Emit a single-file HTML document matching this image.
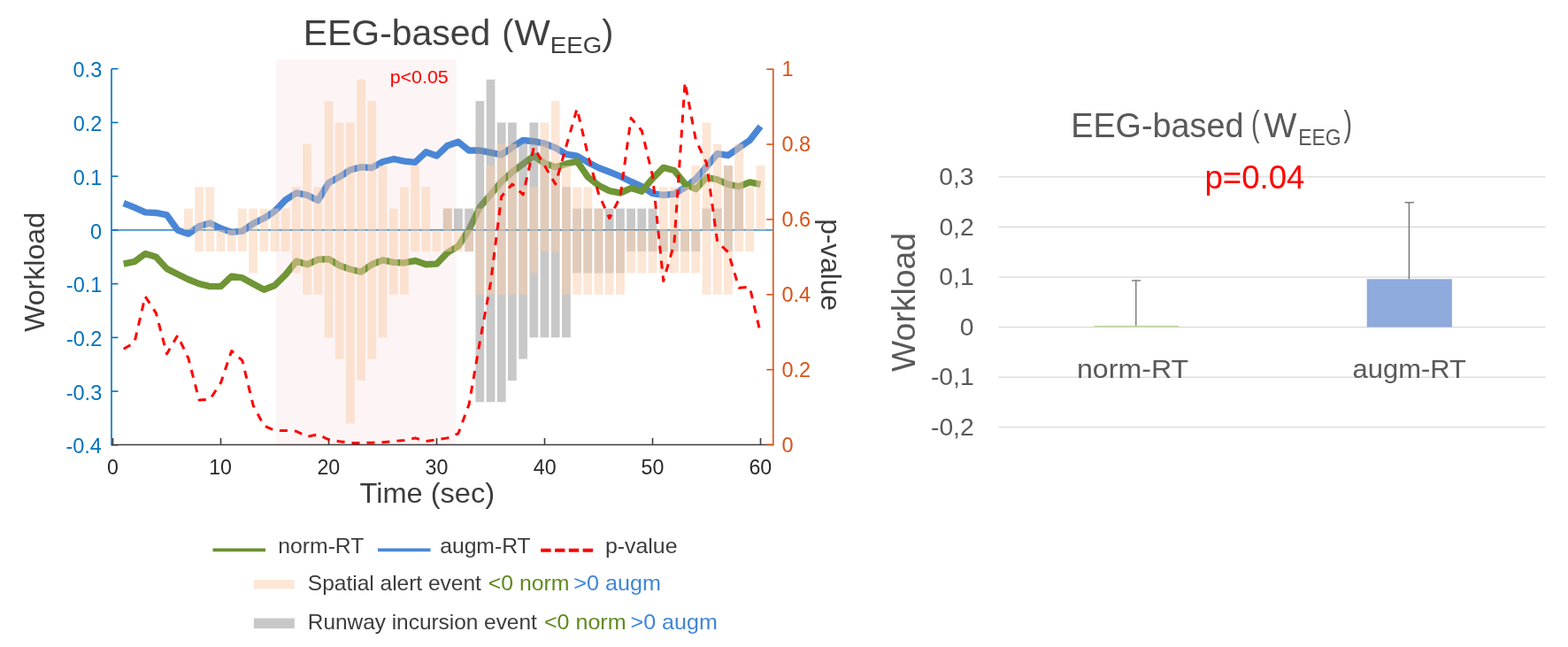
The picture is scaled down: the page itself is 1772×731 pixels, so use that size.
<!DOCTYPE html><html><head><meta charset="utf-8"><title>EEG-based workload</title><style>html,body{margin:0;padding:0;background:#fff;}svg{display:block;}text{font-family:"Liberation Sans", Arial, Helvetica, sans-serif;}</style></head><body>
<svg width="1772" height="731" viewBox="0 0 1772 731">
<rect x="0" y="0" width="1772" height="731" fill="#ffffff"/>
<g id="left">
<rect x="312" y="67" width="203.7" height="435.5" fill="#fdf5f5"/>
<line x1="127.5" y1="259.9" x2="873.8" y2="259.9" stroke="#3f95d3" stroke-width="1.7"/>
<polyline points="139.7,229.53 151.9,234.39 164.1,239.86 176.3,240.47 188.5,242.9 200.7,259.9 212.9,264.15 225.1,255.65 237.3,252.01 249.5,258.08 261.7,262.33 273.9,261.11 286.1,252.61 298.3,246.54 310.5,238.64 322.7,225.89 334.9,218 347.1,220.43 359.3,226.5 371.5,206.46 383.7,199.78 395.9,191.88 408.1,188.85 420.3,189.45 432.5,182.77 444.7,179.74 456.9,182.17 469.1,183.38 481.3,171.84 493.5,176.09 505.7,164.55 517.9,160.3 530.1,170.02 542.3,170.02 554.5,172.45 566.7,174.88 578.9,166.38 591.1,158.48 603.3,159.7 615.5,162.12 627.7,166.98 639.9,174.27 652.1,176.09 664.3,183.38 676.5,189.45 688.7,194.31 700.9,199.17 713.1,205.24 725.3,210.71 737.5,218.6 749.7,220.43 761.9,219.21 774.1,211.92 786.3,202.21 798.5,188.24 810.7,173.66 822.9,175.49 835.1,166.98 847.3,158.48 859.5,142.69" fill="none" stroke="#4a86d6" stroke-width="7.4" stroke-linejoin="round" stroke-linecap="butt"/>
<polyline points="139.7,298.16 151.9,295.73 164.1,286.62 176.3,290.26 188.5,303.63 200.7,309.7 212.9,315.77 225.1,320.63 237.3,323.67 249.5,323.67 261.7,312.13 273.9,313.95 286.1,320.63 298.3,327.31 310.5,322.45 322.7,310.31 334.9,295.12 347.1,298.77 359.3,293.3 371.5,292.69 383.7,299.98 395.9,304.23 408.1,307.27 420.3,298.77 432.5,293.91 444.7,296.34 456.9,296.95 469.1,294.52 481.3,298.77 493.5,298.16 505.7,285.41 517.9,278.12 530.1,259.29 542.3,233.79 554.5,219.82 566.7,205.24 578.9,194.31 591.1,185.2 603.3,176.09 615.5,184.59 627.7,188.85 639.9,185.2 652.1,182.17 664.3,199.78 676.5,209.49 688.7,215.57 700.9,218 713.1,212.53 725.3,216.17 737.5,201.6 749.7,189.45 761.9,192.49 774.1,207.67 786.3,213.75 798.5,200.38 810.7,202.81 822.9,208.28 835.1,210.71 847.3,205.85 859.5,208.28" fill="none" stroke="#6f9535" stroke-width="7.4" stroke-linejoin="round" stroke-linecap="butt"/>
<g fill="#919191" fill-opacity="0.5">
<rect x="500.82" y="235.61" width="9.76" height="24.29"/>
<rect x="513.02" y="235.61" width="9.76" height="24.29"/>
<rect x="525.22" y="235.61" width="9.76" height="48.58"/>
<rect x="537.42" y="114.15" width="9.76" height="340.09"/>
<rect x="549.62" y="89.86" width="9.76" height="364.38"/>
<rect x="561.82" y="138.44" width="9.76" height="315.8"/>
<rect x="574.02" y="138.44" width="9.76" height="291.5"/>
<rect x="586.22" y="162.73" width="9.76" height="242.92"/>
<rect x="598.42" y="138.44" width="9.76" height="242.92"/>
<rect x="610.62" y="162.73" width="9.76" height="218.63"/>
<rect x="622.82" y="187.02" width="9.76" height="194.34"/>
<rect x="635.02" y="211.32" width="9.76" height="170.04"/>
<rect x="647.22" y="235.61" width="9.76" height="72.88"/>
<rect x="659.42" y="235.61" width="9.76" height="72.88"/>
<rect x="671.62" y="235.61" width="9.76" height="72.88"/>
<rect x="683.82" y="235.61" width="9.76" height="72.88"/>
<rect x="696.02" y="235.61" width="9.76" height="72.88"/>
<rect x="708.22" y="235.61" width="9.76" height="48.58"/>
<rect x="720.42" y="235.61" width="9.76" height="48.58"/>
<rect x="732.62" y="235.61" width="9.76" height="48.58"/>
<rect x="744.82" y="259.9" width="9.76" height="24.29"/>
<rect x="757.02" y="259.9" width="9.76" height="24.29"/>
<rect x="769.22" y="259.9" width="9.76" height="24.29"/>
<rect x="781.42" y="259.9" width="9.76" height="24.29"/>
<rect x="793.62" y="235.61" width="9.76" height="24.29"/>
<rect x="805.82" y="235.61" width="9.76" height="24.29"/>
<rect x="818.02" y="187.02" width="9.76" height="97.17"/>
<rect x="830.22" y="211.32" width="9.76" height="48.58"/>
</g>
<g fill="#f9cdab" fill-opacity="0.5">
<rect x="208.02" y="235.61" width="9.76" height="24.29"/>
<rect x="220.22" y="211.32" width="9.76" height="72.88"/>
<rect x="232.42" y="211.32" width="9.76" height="72.88"/>
<rect x="244.62" y="259.9" width="9.76" height="24.29"/>
<rect x="256.82" y="259.9" width="9.76" height="24.29"/>
<rect x="269.02" y="235.61" width="9.76" height="48.58"/>
<rect x="281.22" y="235.61" width="9.76" height="72.88"/>
<rect x="293.42" y="235.61" width="9.76" height="48.58"/>
<rect x="305.62" y="235.61" width="9.76" height="48.58"/>
<rect x="317.82" y="235.61" width="9.76" height="48.58"/>
<rect x="330.02" y="211.32" width="9.76" height="97.17"/>
<rect x="342.22" y="162.73" width="9.76" height="170.04"/>
<rect x="354.42" y="211.32" width="9.76" height="121.46"/>
<rect x="366.62" y="114.15" width="9.76" height="267.21"/>
<rect x="378.82" y="138.44" width="9.76" height="267.21"/>
<rect x="391.02" y="138.44" width="9.76" height="340.09"/>
<rect x="403.22" y="89.86" width="9.76" height="340.09"/>
<rect x="415.42" y="114.15" width="9.76" height="291.5"/>
<rect x="427.62" y="187.02" width="9.76" height="194.34"/>
<rect x="439.82" y="235.61" width="9.76" height="97.17"/>
<rect x="452.02" y="211.32" width="9.76" height="121.46"/>
<rect x="464.22" y="187.02" width="9.76" height="97.17"/>
<rect x="476.42" y="211.32" width="9.76" height="72.88"/>
<rect x="488.62" y="259.9" width="9.76" height="24.29"/>
<rect x="500.82" y="235.61" width="9.76" height="48.58"/>
<rect x="513.02" y="259.9" width="9.76" height="24.29"/>
<rect x="525.22" y="259.9" width="9.76" height="24.29"/>
<rect x="537.42" y="235.61" width="9.76" height="97.17"/>
<rect x="549.62" y="187.02" width="9.76" height="145.75"/>
<rect x="561.82" y="162.73" width="9.76" height="170.04"/>
<rect x="574.02" y="162.73" width="9.76" height="170.04"/>
<rect x="586.22" y="211.32" width="9.76" height="121.46"/>
<rect x="598.42" y="211.32" width="9.76" height="97.17"/>
<rect x="610.62" y="138.44" width="9.76" height="145.75"/>
<rect x="622.82" y="114.15" width="9.76" height="170.04"/>
<rect x="635.02" y="187.02" width="9.76" height="145.75"/>
<rect x="647.22" y="211.32" width="9.76" height="121.46"/>
<rect x="659.42" y="211.32" width="9.76" height="121.46"/>
<rect x="671.62" y="235.61" width="9.76" height="97.17"/>
<rect x="683.82" y="259.9" width="9.76" height="72.88"/>
<rect x="696.02" y="259.9" width="9.76" height="72.88"/>
<rect x="708.22" y="259.9" width="9.76" height="48.58"/>
<rect x="720.42" y="259.9" width="9.76" height="48.58"/>
<rect x="732.62" y="259.9" width="9.76" height="48.58"/>
<rect x="744.82" y="211.32" width="9.76" height="97.17"/>
<rect x="757.02" y="211.32" width="9.76" height="97.17"/>
<rect x="769.22" y="211.32" width="9.76" height="97.17"/>
<rect x="781.42" y="187.02" width="9.76" height="121.46"/>
<rect x="793.62" y="138.44" width="9.76" height="194.34"/>
<rect x="805.82" y="162.73" width="9.76" height="170.04"/>
<rect x="818.02" y="187.02" width="9.76" height="145.75"/>
<rect x="830.22" y="162.73" width="9.76" height="121.46"/>
<rect x="842.42" y="211.32" width="9.76" height="72.88"/>
<rect x="854.62" y="187.02" width="9.76" height="72.88"/>
</g>
<line x1="126" y1="77.71" x2="126" y2="503.3" stroke="#0072bd" stroke-width="1.6"/>
<line x1="126" y1="502.82" x2="133.5" y2="502.82" stroke="#0072bd" stroke-width="1.6"/>
<line x1="126" y1="442.09" x2="133.5" y2="442.09" stroke="#0072bd" stroke-width="1.6"/>
<line x1="126" y1="381.36" x2="133.5" y2="381.36" stroke="#0072bd" stroke-width="1.6"/>
<line x1="126" y1="320.63" x2="133.5" y2="320.63" stroke="#0072bd" stroke-width="1.6"/>
<line x1="126" y1="259.9" x2="133.5" y2="259.9" stroke="#0072bd" stroke-width="1.6"/>
<line x1="126" y1="199.17" x2="133.5" y2="199.17" stroke="#0072bd" stroke-width="1.6"/>
<line x1="126" y1="138.44" x2="133.5" y2="138.44" stroke="#0072bd" stroke-width="1.6"/>
<line x1="126" y1="77.71" x2="133.5" y2="77.71" stroke="#0072bd" stroke-width="1.6"/>
<line x1="126" y1="502.5" x2="873.8" y2="502.5" stroke="#3c3c3c" stroke-width="1.6"/>
<line x1="127.5" y1="502.5" x2="127.5" y2="495" stroke="#3c3c3c" stroke-width="1.6"/>
<line x1="249.5" y1="502.5" x2="249.5" y2="495" stroke="#3c3c3c" stroke-width="1.6"/>
<line x1="371.5" y1="502.5" x2="371.5" y2="495" stroke="#3c3c3c" stroke-width="1.6"/>
<line x1="493.5" y1="502.5" x2="493.5" y2="495" stroke="#3c3c3c" stroke-width="1.6"/>
<line x1="615.5" y1="502.5" x2="615.5" y2="495" stroke="#3c3c3c" stroke-width="1.6"/>
<line x1="737.5" y1="502.5" x2="737.5" y2="495" stroke="#3c3c3c" stroke-width="1.6"/>
<line x1="859.5" y1="502.5" x2="859.5" y2="495" stroke="#3c3c3c" stroke-width="1.6"/>
<line x1="873.8" y1="78.2" x2="873.8" y2="503.3" stroke="#d95319" stroke-width="1.6"/>
<line x1="866.3" y1="502.5" x2="874.3" y2="502.5" stroke="#d95319" stroke-width="1.6"/>
<line x1="866.3" y1="417.64" x2="874.3" y2="417.64" stroke="#d95319" stroke-width="1.6"/>
<line x1="866.3" y1="332.78" x2="874.3" y2="332.78" stroke="#d95319" stroke-width="1.6"/>
<line x1="866.3" y1="247.92" x2="874.3" y2="247.92" stroke="#d95319" stroke-width="1.6"/>
<line x1="866.3" y1="163.06" x2="874.3" y2="163.06" stroke="#d95319" stroke-width="1.6"/>
<line x1="866.3" y1="78.2" x2="874.3" y2="78.2" stroke="#d95319" stroke-width="1.6"/>
<polyline points="139.7,394.3 151.9,387.09 164.1,334.9 176.3,353.57 188.5,399.82 200.7,379.03 212.9,404.91 225.1,452.01 237.3,451.16 249.5,432.49 261.7,396.43 273.9,407.46 286.1,457.95 298.3,480.86 310.5,486.38 322.7,486.38 334.9,487.23 347.1,493.38 359.3,490.83 371.5,496.73 383.7,498.77 395.9,500.46 408.1,500.59 420.3,500.17 432.5,499.74 444.7,498.43 456.9,497.41 469.1,494.86 481.3,498.43 493.5,496.9 505.7,494.86 517.9,489.77 530.1,456.68 542.3,386.24 554.5,319.2 566.7,222.04 578.9,208.04 591.1,219.92 603.3,166.45 615.5,187.25 627.7,208.04 639.9,165.18 652.1,122.75 664.3,174.52 676.5,219.07 688.7,246.65 700.9,222.46 713.1,133.36 725.3,147.79 737.5,198.7 749.7,317.51 761.9,275.5 774.1,93.05 786.3,157.97 798.5,184.27 810.7,273.38 822.9,284.83 835.1,325.14 847.3,324.29 859.5,376.91" fill="none" stroke="#ff0000" stroke-width="3" stroke-dasharray="9 8" stroke-linejoin="round"/>
<text x="74.39" y="512.42" font-size="23.5" fill="#0072bd" textLength="40.49" lengthAdjust="spacingAndGlyphs">-0.4</text>
<text x="74.74" y="451.69" font-size="23.5" fill="#0072bd" textLength="40.49" lengthAdjust="spacingAndGlyphs">-0.3</text>
<text x="74.89" y="390.96" font-size="23.5" fill="#0072bd" textLength="40.49" lengthAdjust="spacingAndGlyphs">-0.2</text>
<text x="74.85" y="330.23" font-size="23.5" fill="#0072bd" textLength="40.49" lengthAdjust="spacingAndGlyphs">-0.1</text>
<text x="102.05" y="269.5" font-size="23.5" fill="#0072bd" textLength="13.07" lengthAdjust="spacingAndGlyphs">0</text>
<text x="82.68" y="208.77" font-size="23.5" fill="#0072bd" textLength="32.67" lengthAdjust="spacingAndGlyphs">0.1</text>
<text x="82.71" y="148.04" font-size="23.5" fill="#0072bd" textLength="32.67" lengthAdjust="spacingAndGlyphs">0.2</text>
<text x="82.56" y="87.31" font-size="23.5" fill="#0072bd" textLength="32.67" lengthAdjust="spacingAndGlyphs">0.3</text>
<text x="121.05" y="536.4" font-size="23.2" fill="#2a2a2a" textLength="12.9" lengthAdjust="spacingAndGlyphs">0</text>
<text x="236.17" y="536.4" font-size="23.2" fill="#2a2a2a" textLength="25.81" lengthAdjust="spacingAndGlyphs">10</text>
<text x="358.47" y="536.4" font-size="23.2" fill="#2a2a2a" textLength="25.81" lengthAdjust="spacingAndGlyphs">20</text>
<text x="480.61" y="536.4" font-size="23.2" fill="#2a2a2a" textLength="25.81" lengthAdjust="spacingAndGlyphs">30</text>
<text x="602.78" y="536.4" font-size="23.2" fill="#2a2a2a" textLength="25.81" lengthAdjust="spacingAndGlyphs">40</text>
<text x="724.59" y="536.4" font-size="23.2" fill="#2a2a2a" textLength="25.81" lengthAdjust="spacingAndGlyphs">50</text>
<text x="846.46" y="536.4" font-size="23.2" fill="#2a2a2a" textLength="25.81" lengthAdjust="spacingAndGlyphs">60</text>
<text x="883.5" y="510.7" font-size="23.5" fill="#d95319" textLength="13.07" lengthAdjust="spacingAndGlyphs">0</text>
<text x="883.5" y="425.84" font-size="23.5" fill="#d95319" textLength="32.67" lengthAdjust="spacingAndGlyphs">0.2</text>
<text x="883.5" y="340.98" font-size="23.5" fill="#d95319" textLength="32.67" lengthAdjust="spacingAndGlyphs">0.4</text>
<text x="883.5" y="256.12" font-size="23.5" fill="#d95319" textLength="32.67" lengthAdjust="spacingAndGlyphs">0.6</text>
<text x="883.5" y="171.26" font-size="23.5" fill="#d95319" textLength="32.67" lengthAdjust="spacingAndGlyphs">0.8</text>
<text x="883.5" y="86.4" font-size="23.5" fill="#d95319" textLength="13.07" lengthAdjust="spacingAndGlyphs">1</text>
<text x="406.57" y="568.4" font-size="32" fill="#3c3c3c" textLength="152.53" lengthAdjust="spacingAndGlyphs">Time (sec)</text>
<text transform="translate(49.6,0) rotate(-90)" x="-375.04" y="0" font-size="32" fill="#3c3c3c" textLength="135.1" lengthAdjust="spacingAndGlyphs">Workload</text>
<text transform="translate(927.6,0) rotate(90)" x="247.16" y="0" font-size="32" fill="#3c3c3c" textLength="103.95" lengthAdjust="spacingAndGlyphs">p-value</text>
<text x="342.74" y="51.4" font-size="40.6" fill="#404040" textLength="211.6" lengthAdjust="spacingAndGlyphs">EEG-based</text>
<text x="567.37" y="51.4" font-size="40.6" fill="#404040" textLength="13.06" lengthAdjust="spacingAndGlyphs">(</text>
<text x="581.31" y="51.4" font-size="40.6" fill="#404040" textLength="40.54" lengthAdjust="spacingAndGlyphs">W</text>
<text x="621.73" y="60.2" font-size="26.5" fill="#404040" textLength="58.44" lengthAdjust="spacingAndGlyphs">EEG</text>
<text x="680.17" y="51.4" font-size="40.6" fill="#404040" textLength="13.06" lengthAdjust="spacingAndGlyphs">)</text>
<text x="440.72" y="94.3" font-size="20.5" fill="#ff0000" textLength="65.98" lengthAdjust="spacingAndGlyphs">p&lt;0.05</text>
</g>
<g id="legend">
<line x1="240.5" y1="621.4" x2="300" y2="621.4" stroke="#6a8f2f" stroke-width="3.6"/>
<line x1="427" y1="621.4" x2="486.5" y2="621.4" stroke="#4a86d6" stroke-width="3.6"/>
<line x1="611.2" y1="621.7" x2="670.5" y2="621.7" stroke="#ff0000" stroke-width="4" stroke-dasharray="11.4 4.4"/>
<text x="314.37" y="624.6" font-size="24" fill="#3c3c3c" textLength="97" lengthAdjust="spacingAndGlyphs">norm-RT</text>
<text x="497.16" y="624.6" font-size="24" fill="#3c3c3c" textLength="102.51" lengthAdjust="spacingAndGlyphs">augm-RT</text>
<text x="683.9" y="624.6" font-size="24" fill="#3c3c3c" textLength="81.61" lengthAdjust="spacingAndGlyphs">p-value</text>
<rect x="286.8" y="655" width="46" height="10.5" fill="#fde7d7"/>
<text x="347.89" y="667.3" font-size="24" fill="#3c3c3c" textLength="195.99" lengthAdjust="spacingAndGlyphs">Spatial alert event</text>
<text x="551.78" y="667.3" font-size="24" fill="#5f8a1e" textLength="91.76" lengthAdjust="spacingAndGlyphs">&lt;0 norm</text>
<text x="648.26" y="667.3" font-size="24" fill="#3f86d9" textLength="98.6" lengthAdjust="spacingAndGlyphs">&gt;0 augm</text>
<rect x="286.8" y="698.5" width="46" height="11.5" fill="#c8c8c8"/>
<text x="347.8" y="711.2" font-size="24" fill="#3c3c3c" textLength="258.98" lengthAdjust="spacingAndGlyphs">Runway incursion event</text>
<text x="614.96" y="711.2" font-size="24" fill="#5f8a1e" textLength="92.59" lengthAdjust="spacingAndGlyphs">&lt;0 norm</text>
<text x="712.56" y="711.2" font-size="24" fill="#3f86d9" textLength="98.29" lengthAdjust="spacingAndGlyphs">&gt;0 augm</text>
</g>
<g id="right">
<line x1="1128.5" y1="482.7" x2="1746.5" y2="482.7" stroke="#d9d9d9" stroke-width="1.3"/>
<line x1="1128.5" y1="426.15" x2="1746.5" y2="426.15" stroke="#d9d9d9" stroke-width="1.3"/>
<line x1="1128.5" y1="369.6" x2="1746.5" y2="369.6" stroke="#d9d9d9" stroke-width="1.3"/>
<line x1="1128.5" y1="313.05" x2="1746.5" y2="313.05" stroke="#d9d9d9" stroke-width="1.3"/>
<line x1="1128.5" y1="256.5" x2="1746.5" y2="256.5" stroke="#d9d9d9" stroke-width="1.3"/>
<line x1="1128.5" y1="199.95" x2="1746.5" y2="199.95" stroke="#d9d9d9" stroke-width="1.3"/>
<rect x="1236.3" y="367.9" width="95.7" height="1.7" fill="#bfd89f"/>
<rect x="1544.7" y="315.31" width="96.2" height="54.29" fill="#8faadc"/>
<g stroke="#6e6e6e" stroke-width="1.3">
<line x1="1283.8" y1="317.01" x2="1283.8" y2="367.9"/>
<line x1="1279" y1="317.01" x2="1289" y2="317.01"/>
<line x1="1592.4" y1="228.79" x2="1592.4" y2="315.31"/>
<line x1="1587.5" y1="228.79" x2="1598" y2="228.79"/>
</g>
<text x="1051.98" y="492" font-size="27.2" fill="#595959" textLength="48.74" lengthAdjust="spacingAndGlyphs">-0,2</text>
<text x="1051.94" y="435.45" font-size="27.2" fill="#595959" textLength="48.74" lengthAdjust="spacingAndGlyphs">-0,1</text>
<text x="1084.67" y="378.9" font-size="27.2" fill="#595959" textLength="15.73" lengthAdjust="spacingAndGlyphs">0</text>
<text x="1061.36" y="322.35" font-size="27.2" fill="#595959" textLength="39.32" lengthAdjust="spacingAndGlyphs">0,1</text>
<text x="1061.4" y="265.8" font-size="27.2" fill="#595959" textLength="39.32" lengthAdjust="spacingAndGlyphs">0,2</text>
<text x="1061.22" y="209.25" font-size="27.2" fill="#595959" textLength="39.32" lengthAdjust="spacingAndGlyphs">0,3</text>
<text x="1216.97" y="427" font-size="29" fill="#595959" textLength="126.26" lengthAdjust="spacingAndGlyphs">norm-RT</text>
<text x="1528.59" y="427" font-size="29" fill="#595959" textLength="128.42" lengthAdjust="spacingAndGlyphs">augm-RT</text>
<text transform="translate(1034.4,0) rotate(-90)" x="-419.96" y="0" font-size="36" fill="#595959" textLength="157.06" lengthAdjust="spacingAndGlyphs">Workload</text>
<text x="1210.2" y="155" font-size="38.5" fill="#595959" textLength="195.34" lengthAdjust="spacingAndGlyphs">EEG-based</text>
<text x="1414.02" y="154" font-size="40.5" fill="#595959" textLength="9.55" lengthAdjust="spacingAndGlyphs">(</text>
<text x="1428.33" y="155" font-size="38.5" fill="#595959" textLength="37.11" lengthAdjust="spacingAndGlyphs">W</text>
<text x="1467.32" y="163.6" font-size="26.3" fill="#595959" textLength="48.39" lengthAdjust="spacingAndGlyphs">EEG</text>
<text x="1518.53" y="154" font-size="40.5" fill="#595959" textLength="9.55" lengthAdjust="spacingAndGlyphs">)</text>
<text x="1361.44" y="212.8" font-size="36" fill="#ff0000" textLength="113.03" lengthAdjust="spacingAndGlyphs">p=0.04</text>
</g>
</svg></body></html>
